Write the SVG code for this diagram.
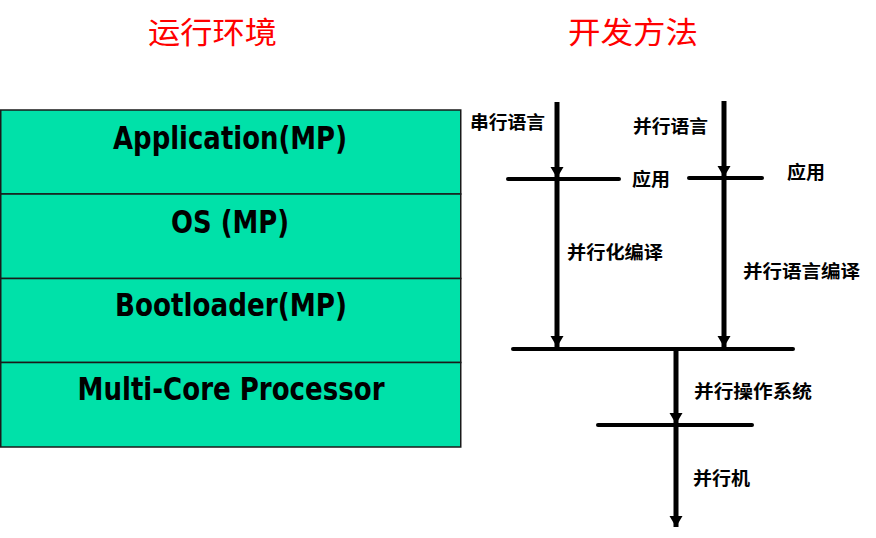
<svg xmlns="http://www.w3.org/2000/svg" width="876" height="538" viewBox="0 0 876 538">
<defs>
<style>
.layer{fill:#00E1A9;stroke:#1a1a1a;stroke-width:1.5}
.en{font-family:"DejaVu Sans","Liberation Sans",sans-serif;font-weight:bold;font-size:31.5px;fill:#000;text-anchor:middle}
.title{font-family:"Noto Sans CJK SC",sans-serif;font-size:30px;fill:#ff0000}
.lbl{font-family:"Noto Sans CJK SC",sans-serif;font-weight:bold;font-size:18px;fill:#000}
.v{stroke:#000;stroke-width:5;fill:none;marker-end:url(#ah)}
.h{stroke:#000;stroke-width:4;stroke-linecap:round;fill:none}
</style>
<marker id="ah" markerUnits="userSpaceOnUse" markerWidth="14" markerHeight="14" refX="0" refY="0" orient="auto" overflow="visible">
<path d="M-11,-6.5 L0,0 L-11,6.5 z" fill="#000"/>
</marker>
</defs>
<rect width="876" height="538" fill="#fff"/>
<g id="title-runtime"><text class="title" x="148" y="43" textLength="129" lengthAdjust="spacingAndGlyphs">运行环境</text></g>
<g id="title-method"><text class="title" x="568" y="43" textLength="130" lengthAdjust="spacingAndGlyphs">开发方法</text></g>
<g id="layer-app"><rect class="layer" x="0.75" y="110" width="460" height="84"/><text class="en" x="230" y="149" textLength="234" lengthAdjust="spacingAndGlyphs">Application(MP)</text></g>
<g id="layer-os"><rect class="layer" x="0.75" y="194" width="460" height="84.5"/><text class="en" x="230" y="233" textLength="118" lengthAdjust="spacingAndGlyphs">OS (MP)</text></g>
<g id="layer-boot"><rect class="layer" x="0.75" y="278.5" width="460" height="84"/><text class="en" x="231" y="316" textLength="232" lengthAdjust="spacingAndGlyphs">Bootloader(MP)</text></g>
<g id="layer-cpu"><rect class="layer" x="0.75" y="362.5" width="460" height="84.5"/><text class="en" x="231" y="400" textLength="307" lengthAdjust="spacingAndGlyphs">Multi-Core Processor</text></g>
<g id="connectors">
<line class="h" x1="508" y1="179" x2="619" y2="179"/>
<line class="h" x1="689" y1="178" x2="762" y2="178"/>
<line class="h" x1="513" y1="349" x2="793" y2="349"/>
<line class="h" x1="598" y1="425" x2="752" y2="425"/>
<line class="v" x1="557" y1="102" x2="557" y2="178"/>
<line class="v" x1="557" y1="179" x2="557" y2="347"/>
<line class="v" x1="724" y1="101" x2="724" y2="177"/>
<line class="v" x1="724" y1="178" x2="724" y2="347"/>
<line class="v" x1="676" y1="349" x2="676" y2="424"/>
<line class="v" x1="676" y1="425" x2="676" y2="527"/>
</g>
<g id="lbl-serial"><text class="lbl" x="470" y="129" textLength="75" lengthAdjust="spacingAndGlyphs">串行语言</text></g>
<g id="lbl-parallel"><text class="lbl" x="633" y="133" textLength="75" lengthAdjust="spacingAndGlyphs">并行语言</text></g>
<g id="lbl-app1"><text class="lbl" x="632" y="186" textLength="38" lengthAdjust="spacingAndGlyphs">应用</text></g>
<g id="lbl-app2"><text class="lbl" x="787" y="179" textLength="38" lengthAdjust="spacingAndGlyphs">应用</text></g>
<g id="lbl-pcompile"><text class="lbl" x="567" y="259" textLength="96" lengthAdjust="spacingAndGlyphs">并行化编译</text></g>
<g id="lbl-plcompile"><text class="lbl" x="743" y="278" textLength="117" lengthAdjust="spacingAndGlyphs">并行语言编译</text></g>
<g id="lbl-pos"><text class="lbl" x="694" y="398" textLength="118" lengthAdjust="spacingAndGlyphs">并行操作系统</text></g>
<g id="lbl-pm"><text class="lbl" x="693" y="485" textLength="57" lengthAdjust="spacingAndGlyphs">并行机</text></g>
</svg>
